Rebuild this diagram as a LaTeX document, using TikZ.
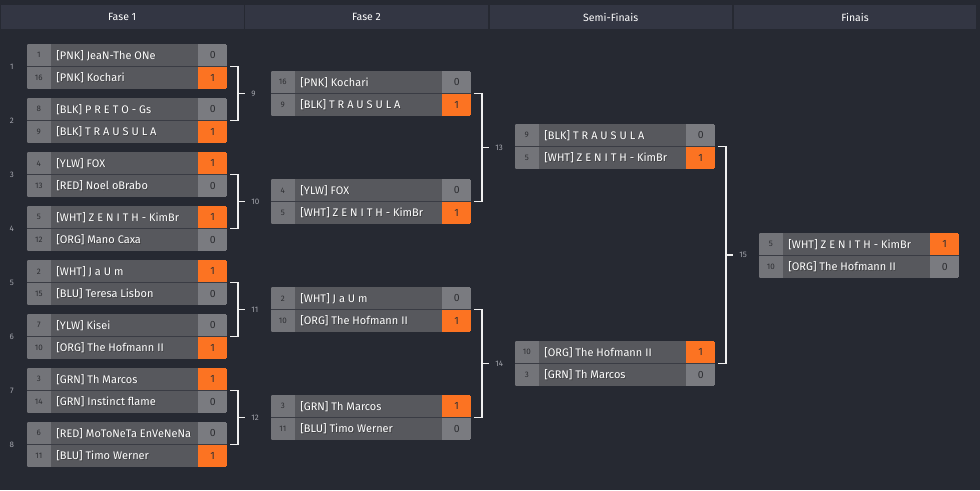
\documentclass[tikz,border=0pt]{standalone}
\usepackage{fontspec}
\setmainfont{Fira Sans}
\usepackage{xcolor}
\usetikzlibrary{positioning,calc}

\definecolor{bgdark}{HTML}{262932}
\definecolor{headbg}{HTML}{333643}
\definecolor{seedcell}{HTML}{737479}
\definecolor{namecell}{HTML}{57585D}
\definecolor{scorecell}{HTML}{7A7B80}
\definecolor{wincell}{HTML}{FC7322}
\definecolor{rowline}{HTML}{3A3C44}
\definecolor{roundlbl}{HTML}{A3A5AD}
\definecolor{darktxt}{HTML}{2E2F33}

\begin{document}
\begin{tikzpicture}[x=1pt, y=-1pt,
  matchbox/.style={minimum width=200pt, minimum height=45pt, inner sep=0pt},
  headcell/.style={fill=headbg, minimum width=242.5pt, minimum height=24.5pt,
                   inner sep=0pt, text=white, font=\fontsize{10.5}{12}\selectfont},
  seedtxt/.style={text=darktxt, font=\fontsize{8}{9}\selectfont},
  nametxt/.style={anchor=west, text=white, font=\fontsize{11}{13}\selectfont},
  shadowtxt/.style={nametxt, text=black!80, opacity=0.6},
  scoretxt/.style={text=darktxt, font=\fontsize{10.5}{12}\selectfont},
  bracket/.style={draw=white!88!gray, line width=1.8pt},
  rlabel/.style={anchor=west, text=roundlbl, font=\fontsize{8}{9}\selectfont}]

% ===== Background =====
\fill[bgdark] (0,0) rectangle (980,490);
\useasboundingbox (0,0) rectangle (980,490);

% ===== Header =====
\foreach \t [count=\k] in {Fase 1, Fase 2, Semi-Finais, Finais} {
  \node[headcell] (h\k) at ({122.25+244.25*(\k-1)}, 17) {\t};
}

% ===== Matches =====
\foreach \id/\x/\y/\sa/\na/\pa/\sb/\nb/\pb in {
  1/27/66.5/1/{[PNK] JeaN-The ONe}/0/16/{[PNK] Kochari}/1,
  2/27/120.5/8/{[BLK] P R E T O - Gs}/0/9/{[BLK] T R A U S U L A}/1,
  3/27/174.5/4/{[YLW] FOX}/1/13/{[RED] Noel oBrabo}/0,
  4/27/228.5/5/{[WHT] Z E N I T H - KimBr}/1/12/{[ORG] Mano Caxa}/0,
  5/27/282.5/2/{[WHT] J a U m}/1/15/{[BLU] Teresa Lisbon}/0,
  6/27/336.5/7/{[YLW] Kisei}/0/10/{[ORG] The Hofmann II}/1,
  7/27/390.5/3/{[GRN] Th Marcos}/1/14/{[GRN] Instinct flame}/0,
  8/27/444.5/6/{[RED] MoToNeTa EnVeNeNa}/0/11/{[BLU] Timo Werner}/1,
  9/271/93.5/16/{[PNK] Kochari}/0/9/{[BLK] T R A U S U L A}/1,
  10/271/201.5/4/{[YLW] FOX}/0/5/{[WHT] Z E N I T H - KimBr}/1,
  11/271/309.5/2/{[WHT] J a U m}/0/10/{[ORG] The Hofmann II}/1,
  12/271/417.5/3/{[GRN] Th Marcos}/1/11/{[BLU] Timo Werner}/0,
  13/515/146.5/9/{[BLK] T R A U S U L A}/0/5/{[WHT] Z E N I T H - KimBr}/1,
  14/515/363.5/10/{[ORG] The Hofmann II}/1/3/{[GRN] Th Marcos}/0,
  15/759/255.5/5/{[WHT] Z E N I T H - KimBr}/1/10/{[ORG] The Hofmann II}/0} {
  \node[matchbox] (m\id) at (\x+100,\y) {};
  \ifnum\pa=1 \def\ca{wincell}\else\def\ca{scorecell}\fi
  \ifnum\pb=1 \def\cb{wincell}\else\def\cb{scorecell}\fi
  \begin{scope}
    \clip[rounded corners=2.5pt] (m\id.north west) rectangle (m\id.south east);
    \fill[namecell] (m\id.north west) rectangle (m\id.south east);
    \fill[seedcell] (m\id.north west) rectangle ++(24,45);
    \fill[\ca] ([xshift=-29pt]m\id.north east) rectangle ++(29,22.5);
    \fill[\cb] ([xshift=-29pt]m\id.east) rectangle ++(29,22.5);
  \end{scope}
  \draw[rowline, line width=1.2pt] (m\id.west) -- (m\id.east);
  % texts
  \node[seedtxt] at ($(m\id.north west)+(12,11.5)$) {\sa};
  \node[seedtxt] at ($(m\id.north west)+(12,34)$) {\sb};
  \node[shadowtxt] at ($(m\id.north west)+(26.8,12.3)$) {\na};
  \node[shadowtxt] at ($(m\id.north west)+(26.8,34.8)$) {\nb};
  \node[nametxt] at ($(m\id.north west)+(26,11.5)$) {\na};
  \node[nametxt] at ($(m\id.north west)+(26,34)$) {\nb};
  \node[scoretxt] at ($(m\id.north east)+(-14.5,11.5)$) {\pa};
  \node[scoretxt] at ($(m\id.north east)+(-14.5,34)$) {\pb};
}

% ===== First round numbers =====
\foreach \i in {1,...,8} {
  \node[rlabel, anchor=center] (lbl\i) at ([xshift=-15pt]m\i.west) {\i};
}

% ===== Brackets =====
\foreach \a/\b/\c in {1/2/9, 3/4/10, 5/6/11, 7/8/12, 9/10/13, 11/12/14, 13/14/15} {
  \draw[bracket] ([xshift=3pt]m\a.east) -- ([xshift=11pt]m\a.east)
                 |- ([xshift=3pt]m\b.east);
  \coordinate (j\c) at ($(m\a.east)!0.5!(m\b.east)$);
  \draw[bracket] ([xshift=11pt]j\c) -- ([xshift=18pt]j\c)
                 node[rlabel, xshift=2pt] (r\c) {\c};
}

\end{tikzpicture}
\end{document}
